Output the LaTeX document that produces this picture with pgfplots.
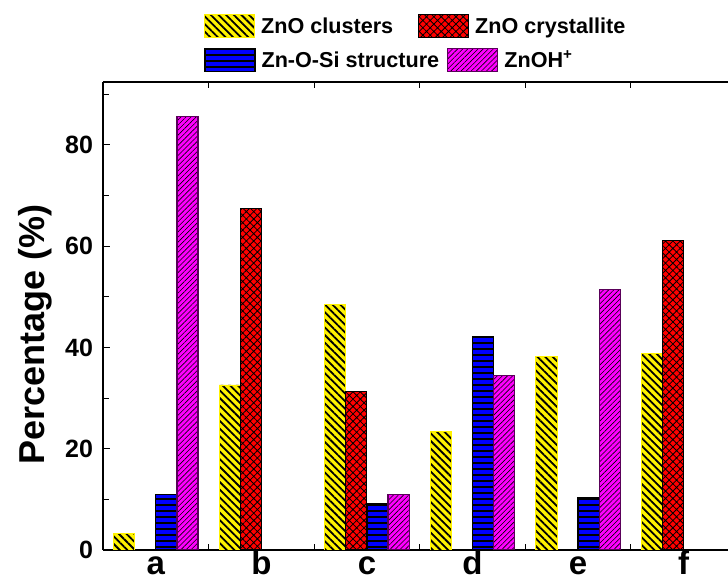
\documentclass[border=0pt]{standalone}
\usepackage{pgfplots}
\pgfplotsset{compat=1.18}
\usetikzlibrary{patterns.meta}
\usepackage{fontspec}
\setmainfont{Liberation Sans}
\definecolor{mag}{RGB}{255,0,255}
\definecolor{magedge}{RGB}{90,0,90}
\pgfplotsset{
  yellowbar/.style={fill=yellow, draw=yellow, line width=0.4pt,
    postaction={pattern={Lines[angle=-45,distance=2.7pt,line width=0.9pt]}, pattern color=black}},
  redbar/.style={fill=red, draw=black, line width=0.5pt,
    postaction={pattern={Hatch[angle=45,distance=2.6pt,line width=0.4pt]}, pattern color=black}},
  bluebar/.style={fill=blue, draw=black, line width=0.6pt,
    postaction={pattern={Lines[angle=0,distance=3pt,line width=0.9pt]}, pattern color=black}},
  magbar/.style={fill=mag, draw=magedge, line width=0.6pt,
    postaction={pattern={Lines[angle=45,distance=1.8pt,line width=0.3pt]}, pattern color=black}},
  swatch/.style={legend image code/.code={\draw[##1] (0pt,-2pt) rectangle (25pt,9.5pt);}},
}
\begin{document}
\begin{tikzpicture}
\path[use as bounding box] (-51.5pt,-16.5pt) rectangle (312.5pt,275pt);
\begin{axis}[
  at={(0pt,0pt)}, anchor=south west,
  scale only axis, width=312.5pt, height=234pt,
  xmin=-0.5, xmax=5.42, ymin=0, ymax=92.44,
  axis x line*=box, axis y line*=left,
  axis line style={line width=1pt},
  xtick={0,1,2,3,4,5}, xticklabels={a,b,c,d,e,f},
  minor xtick={0.5,1.5,2.5,3.5,4.5},
  major x tick style={draw=none},
  ytick={0,20,40,60,80}, minor ytick={10,30,50,70,90},
  tick align=inside, major tick length=3.5pt, minor tick length=3pt,
  tick style={black, line width=0.5pt},
  /pgf/number format/assume math mode=true,
  yticklabel style={font=\fontsize{12.5}{14}\selectfont\bfseries, xshift=-1.5pt},
  xticklabel style={font=\fontsize{16.5}{18}\selectfont\bfseries, anchor=base, inner sep=0pt, yshift=-12.5pt},
  ylabel={Percentage (\%)},
  every axis y label/.style={at={(axis description cs:-0.108,0.4605)}, rotate=90, anchor=center, font=\fontsize{18}{20}\selectfont\bfseries},
  swatch,
  legend style={at={(0,1)}, anchor=west, xshift=50.5pt, yshift=28pt, draw=none, fill=none,
    inner sep=0pt, nodes={inner sep=0pt, anchor=base west}, column sep=3pt,
    font=\fontsize{10.8}{12}\selectfont\bfseries},
  legend columns=-1,
]
\addplot[ybar, bar width=0.2, bar shift=-0.3, yellowbar] coordinates {(0,3.3) (1,32.6) (2,48.5) (3,23.5) (4,38.3) (5,38.9)};
\addlegendentry{ZnO clusters\rule{9.5pt}{0pt}}
\addplot[ybar, bar width=0.2, bar shift=-0.1, redbar] coordinates {(1,67.4) (2,31.3) (5,61.1)};
\addlegendentry{ZnO crystallite}
\addplot[ybar, bar width=0.2, bar shift=0.1, bluebar, forget plot] coordinates {(0,10.9) (2,9.1) (3,42.1) (4,10.4)};
\addplot[ybar, bar width=0.2, bar shift=0.3, magbar, forget plot] coordinates {(0,85.7) (2,10.9) (3,34.4) (4,51.4)};
\end{axis}
\begin{axis}[
  at={(0pt,0pt)}, anchor=south west,
  scale only axis, width=312.5pt, height=234pt,
  xmin=-0.5, xmax=5.42, ymin=0, ymax=92.44,
  hide axis, swatch,
  legend style={at={(0,1)}, anchor=west, xshift=50.5pt, yshift=11pt, draw=none, fill=none,
    inner sep=0pt, nodes={inner sep=0pt, anchor=base west}, column sep=3pt,
    font=\fontsize{10.8}{12}\selectfont\bfseries},
  legend columns=-1,
]
\addlegendimage{bluebar}
\addlegendentry{Zn-O-Si structure\rule{1pt}{0pt}}
\addlegendimage{magbar}
\addlegendentry{ZnOH\textsuperscript{+}}
\end{axis}
\end{tikzpicture}
\end{document}
